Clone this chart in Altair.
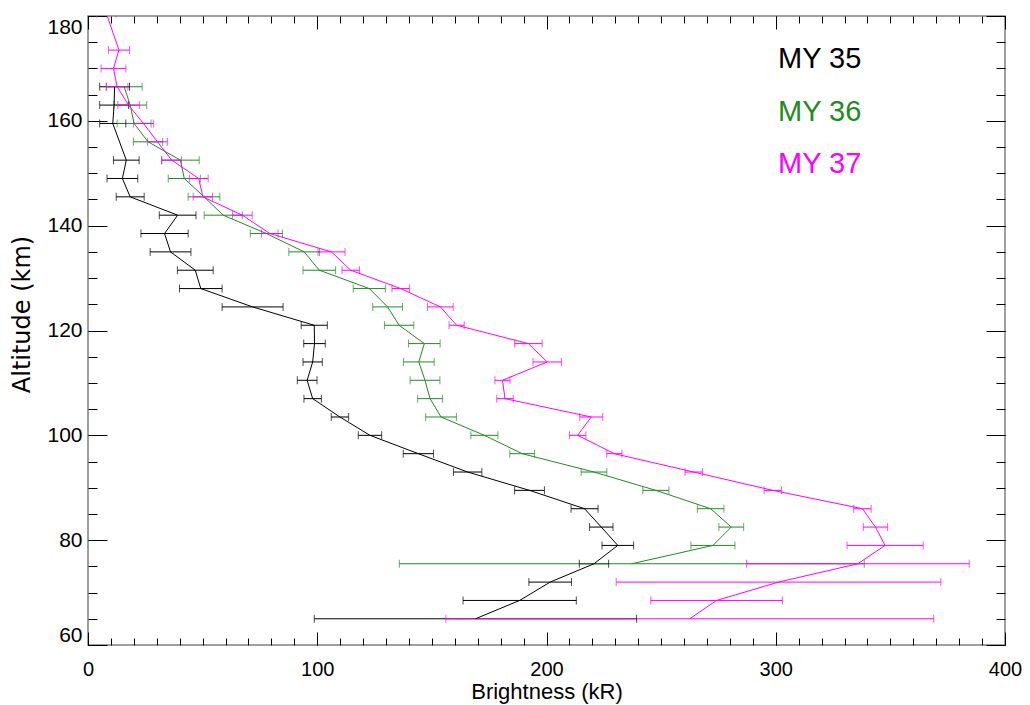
import altair as alt
import pandas as pd

# ---- data ----
series_names = ["MY 35", "MY 36", "MY 37"]
series_colors = ["#000000", "#228B22", "#FF00FF"]

alt35 = [166.5, 163, 159.5, 152.5, 149, 145.5, 142, 138.5, 135, 131.5, 128, 124.5, 121,
         117.5, 114, 110.5, 107, 103.5, 100, 96.5, 93, 89.5, 86, 82.5, 79, 75.5, 72, 68.5, 65]
val35 = [11.6, 11.4, 10.8, 16.7, 15.0, 18.4, 39.1, 33.4, 36.0, 46.8, 49.2, 71.8, 98.7,
         98.8, 98.0, 95.6, 98.0, 109.9, 123.0, 144.1, 165.6, 192.6, 216.6, 223.9, 231.1,
         220.7, 201.6, 188.3, 169.0]
err35 = [6.5, 6.3, 5.7, 5.6, 6.7, 6.1, 8.0, 10.3, 8.9, 7.8, 9.3, 13.3, 5.7,
         4.7, 4.2, 4.3, 3.8, 3.8, 5.1, 6.6, 6.2, 6.5, 5.9, 5.1, 6.9, 6.4, 9.3, 24.7, 70.3]

alt36 = [166.5, 163, 159.5, 156, 152.5, 149, 145.5, 142, 138.5, 135, 131.5, 128, 124.5, 121,
         117.5, 114, 110.5, 107, 103.5, 100, 96.5, 93, 89.5, 86, 82.5, 79, 75.5]
val36 = [15.8, 18.4, 20.1, 26.2, 40.3, 42.0, 50.6, 59.0, 77.8, 94.3, 100.9, 122.7, 130.7,
         135.7, 146.7, 144.3, 147.0, 149.2, 154.0, 172.9, 189.4, 220.7, 247.7, 271.6, 280.6,
         272.6, 237.2]
err36 = [7.8, 7.2, 7.4, 6.4, 8.2, 7.0, 6.9, 8.3, 7.0, 6.7, 7.1, 7.0, 6.5, 6.4,
         6.9, 6.7, 6.5, 5.4, 6.7, 5.9, 5.4, 5.6, 5.7, 5.8, 5.4, 9.6, 101.4]

alt37 = [180.5, 173.5, 170, 166.5, 163, 159.5, 156, 152.5, 149, 145.5, 142, 138.5, 135, 131.5,
         128, 124.5, 121, 117.5, 114, 110.5, 107, 103.5, 100, 96.5, 93, 89.5, 86, 82.5, 79,
         75.5, 72, 68.5, 65]
val37 = [8.0, 13.5, 11.1, 12.7, 17.7, 24.2, 30.3, 36.5, 48.3, 50.1, 67.3, 79.3, 106.2, 114.6,
         136.4, 153.7, 160.8, 192.1, 200.3, 180.8, 181.9, 219.5, 213.6, 229.6, 264.2, 298.7,
         337.8, 343.5, 347.7, 335.8, 301.2, 274.2, 262.5]
err37 = [4.2, 4.6, 5.4, 4.7, 4.7, 4.3, 4.3, 4.3, 4.1, 4.2, 4.3, 3.6, 5.9, 3.8,
         3.8, 5.6, 3.3, 6.0, 6.2, 3.3, 3.6, 5.0, 3.6, 3.3, 3.8, 3.8, 3.8, 5.3, 16.6,
         48.6, 70.8, 28.7, 106.4]

x_major = [0, 100, 200, 300, 400]
x_minor = list(range(0, 401, 10))
y_major = [60, 80, 100, 120, 140, 160, 180]
y_minor = list(range(60, 181, 5))

rows = []
for name, alts, vals, errs in zip(series_names, [alt35, alt36, alt37],
                                  [val35, val36, val37], [err35, err36, err37]):
    for a, v, e in zip(alts, vals, errs):
        rows.append({"series": name, "alt": a, "val": v, "lo": v - e, "hi": v + e})
df = pd.DataFrame(rows)

FONT = "Liberation Sans"
xs = alt.Scale(domain=[0, 400], nice=False, zero=False)
ys = alt.Scale(domain=[60, 180], nice=False, zero=False)
color = alt.Color("series:N", scale=alt.Scale(domain=series_names, range=series_colors),
                  legend=None)


def tick_axis(orient, values, size):
    return alt.Axis(orient=orient, values=values, tickSize=size, offset=-size,
                    labels=False, domain=False, grid=False, title=None,
                    tickColor="black", tickWidth=1)


ax_x_lab = alt.Axis(orient="bottom", values=x_major, ticks=False, tickSize=0, domain=False,
                    grid=False, labelFont=FONT, labelFontSize=20, labelColor="black",
                    labelPadding=30, labelBaseline="alphabetic", labelFlush=False,
                    title="Brightness (kR)", titleFont=FONT, titleFontSize=22,
                    titleFontWeight="normal", titleColor="black", titleY=53,
                    titleBaseline="alphabetic")
ax_y_lab = alt.Axis(orient="left", values=y_major, ticks=False, tickSize=0, domain=False,
                    grid=False, labelFont=FONT, labelFontSize=21, labelColor="black",
                    labelPadding=6, labelFlush=True,
                    title="Altitude (km)", titleFont="DejaVu Sans", titleFontSize=24,
                    titleFontWeight="normal", titleColor="black", titleX=-66, titleY=298,
                    titleAngle=270, titleBaseline="middle", titleAlign="center")

base = alt.Chart(df)

rules = base.mark_rule(strokeWidth=1, clip=True).encode(
    x=alt.X("lo:Q", scale=xs, axis=ax_x_lab),
    x2="hi:Q",
    y=alt.Y("alt:Q", scale=ys, axis=ax_y_lab),
    color=color,
)
caps_lo = base.mark_tick(orient="vertical", size=8, thickness=1, clip=True).encode(
    x=alt.X("lo:Q", scale=xs, axis=tick_axis("bottom", x_major, 13)),
    y=alt.Y("alt:Q", scale=ys, axis=tick_axis("left", y_major, 19)),
    color=color,
)
caps_hi = base.mark_tick(orient="vertical", size=8, thickness=1, clip=True).encode(
    x=alt.X("hi:Q", scale=xs, axis=tick_axis("bottom", x_minor, 7)),
    y=alt.Y("alt:Q", scale=ys, axis=tick_axis("left", y_minor, 9)),
    color=color,
)
lines = base.mark_line(strokeWidth=1, clip=True).encode(
    x=alt.X("val:Q", scale=xs, axis=tick_axis("top", x_major, 13)),
    y=alt.Y("alt:Q", scale=ys, axis=tick_axis("right", y_major, 19)),
    color=color,
    order=alt.Order("alt:Q"),
)
ghost = base.mark_point(opacity=0, clip=True).encode(
    x=alt.X("val:Q", scale=xs, axis=tick_axis("top", x_minor, 7)),
    y=alt.Y("alt:Q", scale=ys, axis=tick_axis("right", y_minor, 9)),
)

legend_y = [43, 96, 148]
legend_layers = []
for name, col, ly in zip(series_names, series_colors, legend_y):
    legend_layers.append(
        alt.Chart(pd.DataFrame({"label": [name]})).mark_text(
            align="left", baseline="middle", font=FONT, fontSize=29
        ).encode(text="label:N", x=alt.value(690), y=alt.value(ly), color=alt.value(col))
    )

chart = alt.layer(rules, caps_lo, caps_hi, lines, ghost, *legend_layers).resolve_scale(
    x="shared", y="shared"
).resolve_axis(
    x="independent", y="independent"
).properties(
    width=917, height=629,
    autosize=alt.AutoSizeParams(type="none"),
    padding={"left": 88, "top": 16, "right": 25, "bottom": 60},
    background="white",
).configure_view(stroke="#808080", strokeWidth=1.5)

chart.save("out.html", embed_options={"renderer": "svg", "actions": False})
